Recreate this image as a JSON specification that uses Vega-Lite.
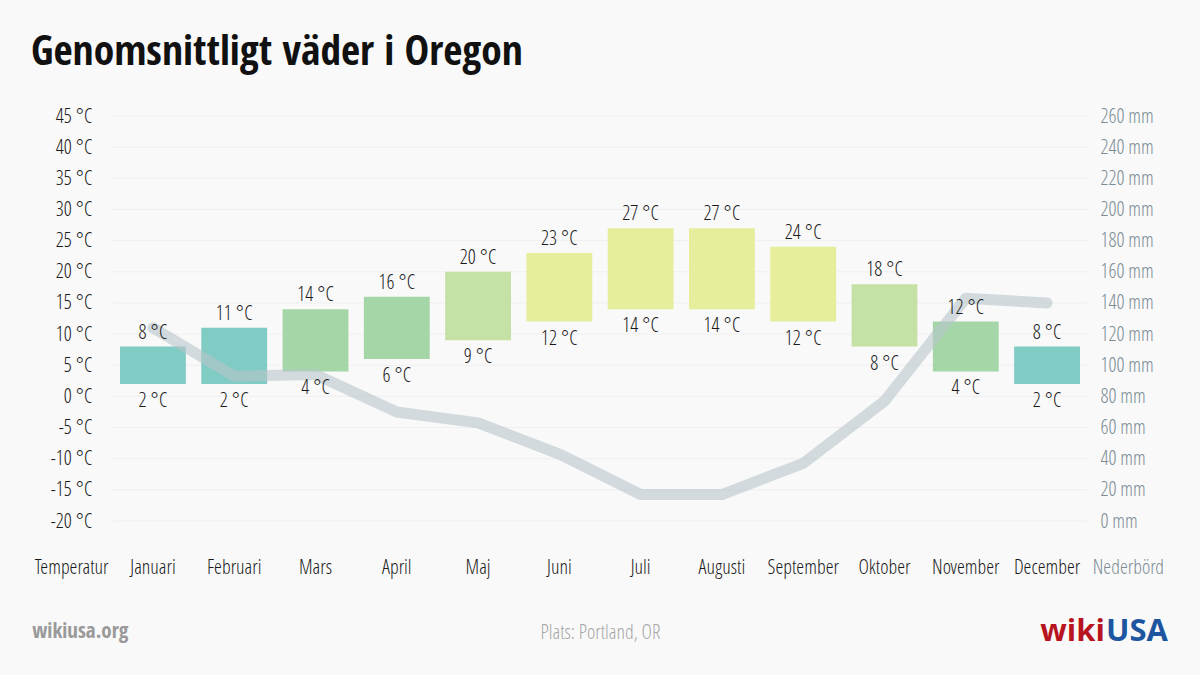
{
  "$schema": "https://vega.github.io/schema/vega-lite/v6.json",
  "width": 1138,
  "height": 405,
  "autosize": {"type": "none"},
  "padding": {"left": 31, "right": 31, "top": 116, "bottom": 154},
  "background": "#f9f9f9",
  "config": {
    "view": {"stroke": null},
    "font": "Open Sans Condensed Light",
    "axis": {"labelOverlap": false, "labelFont": "Open Sans Condensed Light", "titleFont": "Open Sans Condensed Light"}
  },
  "title": {
    "text": "Genomsnittligt väder i Oregon",
    "anchor": "start",
    "frame": "group",
    "font": "Open Sans Condensed",
    "fontSize": 41.5,
    "fontWeight": "bold",
    "color": "#111111",
    "baseline": "alphabetic",
    "offset": 0
  },
  "datasets": {
    "weather": [
      {"month": "Januari", "min": 2, "max": 8, "precip": 124},
      {"month": "Februari", "min": 2, "max": 11, "precip": 93},
      {"month": "Mars", "min": 4, "max": 14, "precip": 94},
      {"month": "April", "min": 6, "max": 16, "precip": 70},
      {"month": "Maj", "min": 9, "max": 20, "precip": 63},
      {"month": "Juni", "min": 12, "max": 23, "precip": 43},
      {"month": "Juli", "min": 14, "max": 27, "precip": 17},
      {"month": "Augusti", "min": 14, "max": 27, "precip": 17},
      {"month": "September", "min": 12, "max": 24, "precip": 37},
      {"month": "Oktober", "min": 8, "max": 18, "precip": 77},
      {"month": "November", "min": 4, "max": 12, "precip": 143},
      {"month": "December", "min": 2, "max": 8, "precip": 140}
    ],
    "grid": [
      {"g": -20}, {"g": -15}, {"g": -10}, {"g": -5}, {"g": 0}, {"g": 5}, {"g": 10},
      {"g": 15}, {"g": 20}, {"g": 25}, {"g": 30}, {"g": 35}, {"g": 40}, {"g": 45}
    ],
    "footer": [{"site": "wikiusa.org", "wiki": "wiki", "usa": "USA"}]
  },
  "encoding": {
    "x": {
      "field": "month",
      "type": "nominal",
      "sort": null,
      "scale": {
        "domain": ["Temperatur", "Januari", "Februari", "Mars", "April", "Maj", "Juni", "Juli", "Augusti", "September", "Oktober", "November", "December", "Nederbörd"],
        "paddingInner": 0.19,
        "paddingOuter": 0.095
      },
      "axis": {
        "orient": "bottom",
        "title": "Plats: Portland, OR",
        "titleFont": "Open Sans Condensed Light",
        "titleFontSize": 20,
        "titleFontWeight": 300,
        "titleColor": "#a6a6a6",
        "titlePadding": 45,
        "labelAngle": 0,
        "labelFont": "Open Sans Condensed Light",
        "labelFontSize": 20,
        "labelFontWeight": 300,
        "labelPadding": 36,
        "labelOverlap": false,
        "labelColor": {"condition": {"test": "datum.value == 'Nederbörd'", "value": "#7b8c94"}, "value": "#1a1a1a"},
        "domain": false,
        "ticks": false,
        "tickSize": 0,
        "grid": false
      }
    }
  },
  "layer": [
    {
      "layer": [
        {
          "data": {"name": "grid"},
          "mark": {"type": "rule", "color": "#efefef", "strokeWidth": 1},
          "encoding": {
            "x": {"datum": "Januari", "bandPosition": -0.12},
            "x2": {"datum": "December", "bandPosition": 1.12},
            "y": {
              "field": "g",
              "type": "quantitative",
              "scale": {"domain": [-20, 45], "nice": false, "zero": false},
              "axis": {
                "orient": "left",
                "values": [-20, -15, -10, -5, 0, 5, 10, 15, 20, 25, 30, 35, 40, 45],
                "labelExpr": "datum.value + ' °C'",
                "labelFont": "Open Sans Condensed Light",
                "labelFontSize": 20,
                "labelFontWeight": 300,
                "labelColor": "#1a1a1a",
                "labelAlign": "right",
                "labelPadding": -61,
                "labelOverlap": false,
                "ticks": false,
                "tickSize": 0,
                "domain": false,
                "grid": false,
                "title": null
              }
            }
          }
        },
        {
          "data": {"name": "weather"},
          "mark": {"type": "bar"},
          "encoding": {
            "y": {
              "field": "min",
              "type": "quantitative",
              "axis": {
                "orient": "left",
                "values": [-20, -15, -10, -5, 0, 5, 10, 15, 20, 25, 30, 35, 40, 45],
                "labelExpr": "datum.value + ' °C'",
                "labelFont": "Open Sans Condensed Light",
                "labelFontSize": 20,
                "labelFontWeight": 300,
                "labelColor": "#1a1a1a",
                "labelAlign": "right",
                "labelPadding": -61,
                "labelOverlap": false,
                "ticks": false,
                "tickSize": 0,
                "domain": false,
                "grid": false,
                "title": null
              }
            },
            "y2": {"field": "max"},
            "color": {
              "field": "max",
              "type": "quantitative",
              "scale": {"type": "threshold", "domain": [12, 17, 22], "range": ["#80cbc4", "#a5d6a7", "#c5e1a5", "#e6ee9c"]},
              "legend": null
            }
          }
        }
      ]
    },
    {
      "data": {"name": "weather"},
      "mark": {"type": "line", "color": "#b8c4ca", "opacity": 0.6, "strokeWidth": 11, "strokeCap": "round", "strokeJoin": "round"},
      "encoding": {
        "y": {
          "field": "precip",
          "type": "quantitative",
          "scale": {"domain": [0, 260], "nice": false},
          "axis": {
            "orient": "right",
            "values": [0, 20, 40, 60, 80, 100, 120, 140, 160, 180, 200, 220, 240, 260],
            "labelExpr": "datum.value + ' mm'",
            "labelFont": "Open Sans Condensed Light",
            "labelFontSize": 20,
            "labelFontWeight": 300,
            "labelColor": "#7b8c94",
            "labelAlign": "left",
            "labelPadding": -69,
            "labelOverlap": false,
            "ticks": false,
            "tickSize": 0,
            "domain": false,
            "grid": false,
            "title": null
          }
        }
      }
    },
    {
      "layer": [
        {
          "data": {"name": "weather"},
          "mark": {"type": "text", "baseline": "bottom", "dy": -4, "font": "Open Sans Condensed Light", "fontWeight": 300, "fontSize": 20, "color": "#1a1a1a", "text": {"expr": "datum.max + ' °C'"}},
          "encoding": {
            "y": {"field": "max", "type": "quantitative", "scale": {"domain": [-20, 45], "nice": false, "zero": false}, "axis": null}
          }
        },
        {
          "data": {"name": "weather"},
          "mark": {"type": "text", "baseline": "top", "dy": 7, "font": "Open Sans Condensed Light", "fontWeight": 300, "fontSize": 20, "color": "#1a1a1a", "text": {"expr": "datum.min + ' °C'"}},
          "encoding": {
            "y": {"field": "min", "type": "quantitative", "scale": {"domain": [-20, 45], "nice": false, "zero": false}, "axis": null}
          }
        },
        {
          "data": {"name": "footer"},
          "mark": {"type": "text", "align": "left", "baseline": "middle", "font": "Open Sans Condensed", "fontSize": 21, "fontWeight": "bold", "color": "#9a9a9a", "text": {"expr": "datum.site"}},
          "encoding": {
            "x": {"datum": "Temperatur", "bandPosition": -0.1},
            "y": {"datum": -37.8, "axis": null}
          }
        },
        {
          "data": {"name": "footer"},
          "mark": {"type": "text", "align": "right", "baseline": "middle", "font": "Open Sans", "fontSize": 31, "fontWeight": "bold", "color": "#1d55a0", "text": {"expr": "datum.usa"}},
          "encoding": {
            "x": {"datum": "Nederbörd", "bandPosition": 1.1},
            "y": {"datum": -37.8, "axis": null}
          }
        },
        {
          "data": {"name": "footer"},
          "mark": {"type": "text", "align": "right", "baseline": "middle", "font": "Open Sans", "fontSize": 31, "fontWeight": "bold", "color": "#b8141f", "dx": -63, "text": {"expr": "datum.wiki"}},
          "encoding": {
            "x": {"datum": "Nederbörd", "bandPosition": 1.1},
            "y": {"datum": -37.8, "axis": null}
          }
        }
      ]
    }
  ],
  "resolve": {"scale": {"y": "independent"}, "axis": {"y": "independent"}}
}
